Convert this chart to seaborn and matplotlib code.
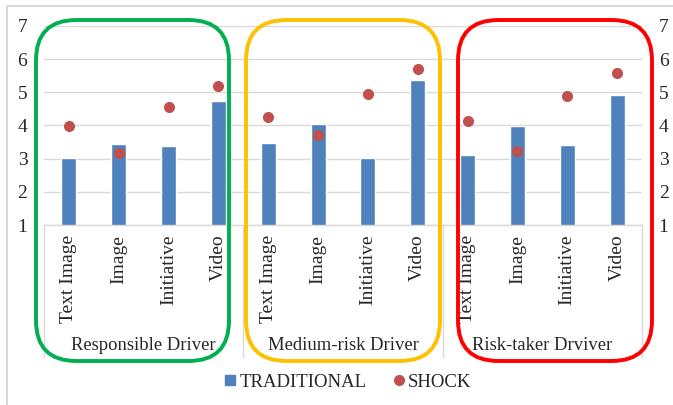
import matplotlib
matplotlib.use("Agg")
import matplotlib.pyplot as plt
from matplotlib.patches import FancyBboxPatch, Rectangle
from matplotlib.lines import Line2D
import seaborn as sns
import pandas as pd

# Survey scores per message format, split by driver profile
groups = ["Responsible Driver", "Medium-risk Driver", "Risk-taker Drviver"]
formats = ["Text Image", "Image", "Initiative", "Video"]
traditional = [3.02, 3.44, 3.37, 4.74,
               3.47, 4.04, 3.02, 5.36,
               3.10, 3.97, 3.40, 4.93]
shock = [3.99, 3.16, 4.55, 5.20,
         4.26, 3.70, 4.94, 5.69,
         4.13, 3.22, 4.89, 5.58]
yticks = [1, 2, 3, 4, 5, 6, 7]

BLUE = "#4F81BD"
RED = "#C0504D"
GRID = "#D9D9D9"
box_colors = ["#00B050", "#FFC000", "#FF0000"]

slots = [f"{g}|{f}" for g in groups for f in formats]
df = pd.DataFrame({
    "slot": slots,
    "format": [f for g in groups for f in formats],
    "TRADITIONAL": traditional,
    "SHOCK": shock,
})

sns.set_theme(style="white")
plt.rcParams["font.family"] = ["Liberation Serif", "DejaVu Serif"]
FS = 14

W, H = 673, 405
fig = plt.figure(figsize=(W / 100, H / 100), dpi=100)
ax = fig.add_axes([44 / W, 180 / H, 598 / W, 199 / H])

sns.barplot(data=df, x="slot", y="TRADITIONAL", color=BLUE, width=0.3,
            saturation=1, ax=ax, zorder=2)
sns.stripplot(data=df, x="slot", y="SHOCK", color=RED, jitter=False,
              size=8, linewidth=0, ax=ax, zorder=3)

ax.set_ylim(1, 7)
ax.set_xlim(-0.5, len(slots) - 0.5)
ax.set_yticks(yticks)
ax.set_yticklabels([str(t) for t in yticks], fontsize=FS)
ax.yaxis.grid(True, color=GRID, linewidth=1, zorder=0)
ax.set_axisbelow(True)
ax.set_xlabel("")
ax.set_ylabel("")
ax.set_xticks(range(len(slots)))
ax.set_xticklabels(df["format"], rotation=90, fontsize=FS)
ax.tick_params(axis="x", length=0, pad=7)
ax.tick_params(axis="y", length=0, pad=12)
for s in ["top", "left", "right"]:
    ax.spines[s].set_visible(False)
ax.spines["bottom"].set_color(GRID)
ax.spines["bottom"].set_linewidth(1)

# secondary axis repeating the scale on the right
ax2 = ax.twinx()
ax2.set_ylim(1, 7)
ax2.set_yticks(yticks)
ax2.set_yticklabels([str(t) for t in yticks], fontsize=FS)
ax2.tick_params(axis="y", length=0, pad=12)
for s in ax2.spines.values():
    s.set_visible(False)

# multi-level category axis: separators and group names
tr = ax.get_xaxis_transform()
for xs in [-0.5, 3.5, 7.5, 11.5]:
    ax.plot([xs, xs], [0, -132 / 199], color=GRID, linewidth=1,
            transform=tr, clip_on=False)
for i, g in enumerate(groups):
    ax.text(i * 4 + 1.5, -121 / 199, g, transform=tr, ha="center",
            va="center", fontsize=13.4)

# rounded outlines around each driver group
boxes = [(36, 229), (246, 440), (458, 652)]
for (x0, x1), c in zip(boxes, box_colors):
    y0, y1 = H - 361, H - 20
    fig.patches.append(FancyBboxPatch(
        (x0 / W, y0 / H), (x1 - x0) / W, (y1 - y0) / H,
        boxstyle="round,pad=0,rounding_size=0.06",
        mutation_aspect=W / H,
        transform=fig.transFigure, fill=False, edgecolor=c, linewidth=2.8))

# chart-area frame
fig.patches.append(Rectangle((7 / W, -0.1), 1.2, (H - 6) / H + 0.1,
                             transform=fig.transFigure, fill=False,
                             edgecolor=GRID, linewidth=1.5))

handles = [Line2D([], [], marker="s", color=BLUE, linestyle="none", markersize=7),
           Line2D([], [], marker="o", color=RED, linestyle="none", markersize=7)]
fig.legend(handles, ["TRADITIONAL", "SHOCK"], loc="center",
           bbox_to_anchor=(347 / W, 1 - 382 / H), ncol=2, frameon=False,
           fontsize=13.5, handletextpad=0.1, columnspacing=1.3, handlelength=0.8)

fig.savefig("out.png", dpi=100)
